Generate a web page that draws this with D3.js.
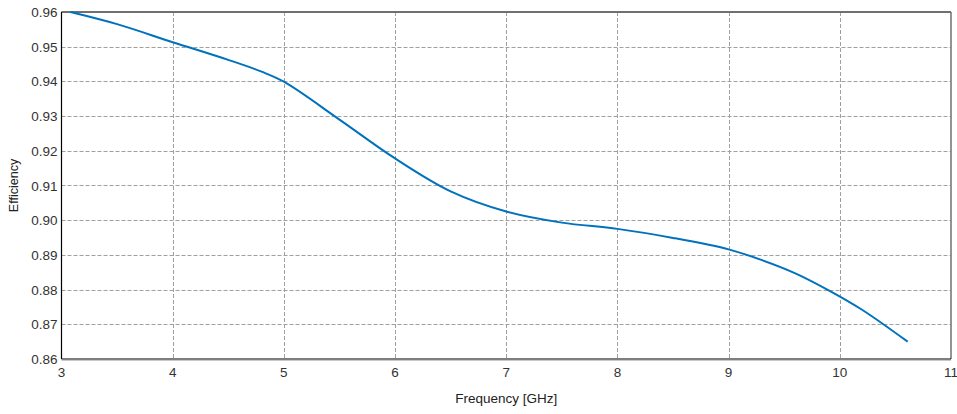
<!DOCTYPE html>
<html>
<head>
<meta charset="utf-8">
<script src="https://cdn.jsdelivr.net/npm/d3@7"></script>
<style>
    body { margin: 0; background: #fff; }
    svg { display: block; font-family: "Liberation Sans", Arial, sans-serif; }
</style>
</head>
<body>
<div id="chart"></div>
<script>
'use strict';

// frequency [GHz] and efficiency
const frequency = [3.08, 3.5, 4.0, 4.5, 4.8, 5.0, 5.5, 6.0, 6.5, 7.0, 7.5, 8.0, 8.5, 9.0, 9.3, 9.6, 9.9, 10.2, 10.61];
const efficiency = [0.960, 0.9565, 0.9513, 0.9462, 0.9428, 0.9399, 0.929, 0.9178, 0.9083, 0.9025, 0.8993, 0.8975, 0.8949, 0.8916, 0.8885, 0.8847, 0.8798, 0.8742, 0.865];

const xTicks = [3, 4, 5, 6, 7, 8, 9, 10, 11];
const yTicks = [0.86, 0.87, 0.88, 0.89, 0.90, 0.91, 0.92, 0.93, 0.94, 0.95, 0.96];

const width = 957, height = 414;
const margin = { left: 61.5, right: 6, top: 12, bottom: 55 };

const svg = d3.select("#chart").append("svg")
    .attr("width", width)
    .attr("height", height);

const x = d3.scaleLinear().domain([3, 11]).range([margin.left, width - margin.right]);
const y = d3.scaleLinear().domain([0.86, 0.96]).range([height - margin.bottom, margin.top]);

// grid
const grid = svg.append("g")
    .attr("stroke", "#a0a0a0")
    .attr("stroke-width", 1)
    .attr("stroke-dasharray", "4,2");
grid.selectAll("line.v")
    .data(xTicks.slice(1, -1))
    .join("line")
    .attr("x1", d => Math.round(x(d)) + 0.5)
    .attr("x2", d => Math.round(x(d)) + 0.5)
    .attr("y1", y(0.96))
    .attr("y2", y(0.86));
grid.selectAll("line.h")
    .data(yTicks.slice(1, -1))
    .join("line")
    .attr("x1", x(3))
    .attr("x2", x(11))
    .attr("y1", d => Math.round(y(d)) + 0.5)
    .attr("y2", d => Math.round(y(d)) + 0.5);

// frame: grey top/right, black left/bottom
svg.append("line")
    .attr("x1", x(3)).attr("x2", x(11))
    .attr("y1", y(0.96)).attr("y2", y(0.96))
    .attr("stroke", "#707070").attr("stroke-width", 2);
svg.append("line")
    .attr("x1", x(11)).attr("x2", x(11))
    .attr("y1", y(0.96)).attr("y2", y(0.86))
    .attr("stroke", "#707070").attr("stroke-width", 1.5);
svg.append("line")
    .attr("x1", x(3)).attr("x2", x(11))
    .attr("y1", y(0.86) + 1.5).attr("y2", y(0.86) + 1.5)
    .attr("stroke", "#c8c8c8").attr("stroke-width", 1);
svg.append("line")
    .attr("x1", x(3)).attr("x2", x(11))
    .attr("y1", y(0.86)).attr("y2", y(0.86))
    .attr("stroke", "#000").attr("stroke-width", 1.2);
svg.append("line")
    .attr("x1", x(3)).attr("x2", x(3))
    .attr("y1", y(0.96)).attr("y2", y(0.86))
    .attr("stroke", "#000").attr("stroke-width", 1.2);

// curve
const points = frequency.map((f, i) => [f, efficiency[i]]);
svg.append("path")
    .datum(points)
    .attr("fill", "none")
    .attr("stroke", "#0072bd")
    .attr("stroke-width", 2)
    .attr("d", d3.line()
        .x(d => x(d[0]))
        .y(d => y(d[1]))
        .curve(d3.curveCatmullRom.alpha(0.5)));

// tick labels
svg.append("g")
    .selectAll("text")
    .data(xTicks)
    .join("text")
    .attr("x", d => x(d))
    .attr("y", y(0.86) + 18)
    .attr("text-anchor", "middle")
    .attr("font-size", 13.5)
    .attr("fill", "#333")
    .text(d => d);

svg.append("g")
    .selectAll("text")
    .data(yTicks)
    .join("text")
    .attr("x", margin.left - 4)
    .attr("y", d => y(d) + 5)
    .attr("text-anchor", "end")
    .attr("font-size", 13.5)
    .attr("fill", "#333")
    .text(d => d3.format(".2f")(d));

// axis titles
svg.append("text")
    .attr("x", (x(3) + x(11)) / 2)
    .attr("y", 403)
    .attr("text-anchor", "middle")
    .attr("font-size", 13.5)
    .attr("fill", "#222")
    .text("Frequency [GHz]");

svg.append("text")
    .attr("transform", `translate(18,${(y(0.96) + y(0.86)) / 2}) rotate(-90)`)
    .attr("text-anchor", "middle")
    .attr("font-size", 12.5)
    .attr("fill", "#222")
    .text("Efficiency");
</script>
</body>
</html>
